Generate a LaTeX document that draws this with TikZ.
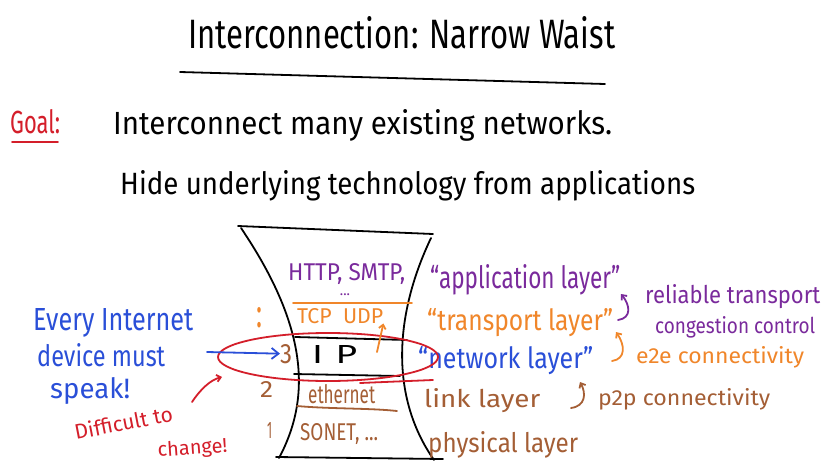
\documentclass[tikz,border=0pt]{standalone}
\usepackage{fontspec}
\usepackage{graphicx}
\setmainfont{Fira Sans}
\usetikzlibrary{arrows.meta}
\definecolor{cpurple}{HTML}{7A2A9C}
\definecolor{corange}{HTML}{F0862A}
\definecolor{cblue}{HTML}{2A4FD8}
\definecolor{cbrown}{HTML}{A45E35}
\definecolor{cred}{HTML}{D41E2A}
\newcommand{\fitbox}[3]{\resizebox{#1pt}{#2pt}{#3}}
\tikzset{
  ink/.style={line width=1.8pt, line cap=round, line join=round},
  txt/.style={inner sep=0pt, anchor=base west, font=\fontsize{20}{22}\selectfont},
  hook/.style={-{Straight Barb[length=4pt,width=7pt]}}
}
\begin{document}
\begin{tikzpicture}[x=1pt,y=-1pt]
\useasboundingbox[fill=white] (0,0) rectangle (830,474);

% Title
\node[txt] (title) at (188,48) {\fitbox{427}{32}{Interconnection: Narrow Waist}};
\coordinate (ulA) at (180,72);
\coordinate (ulB) at (605,84);
\draw[ink] (ulA) -- (ulB);

% Goal
\node[txt, text=cred] (goal) at (10,133) {\fitbox{50}{24}{Goal:}};
\coordinate (glA) at (12,142);
\coordinate (glB) at (58,142);
\draw[ink, cred] (glA) -- (glB);
\node[txt] (g1) at (113,134) {\fitbox{499}{25}{Interconnect many existing networks.}};
\node[txt] (g2) at (120,194) {\fitbox{575}{24}{Hide underlying technology from applications}};

% Hourglass
\coordinate (tl) at (238,226);
\coordinate (tr) at (433,234);
\coordinate (bl) at (276,457);
\coordinate (br) at (443,459);
\draw[ink] (tl) -- (tr);
\draw[ink] (bl) -- (br);
\draw[ink] (241,228) .. controls (310,330) and (310,400) .. (279,458);
\draw[ink] (431,238) .. controls (392,320) and (392,400) .. (434,460);
\draw[ink, corange] (293,303) -- (412,303);
\draw[ink] (295,337) -- (407,340);
\draw[ink] (294,374) -- (400,376);
\draw[ink, cbrown] (297,406) .. controls (330,409) and (370,408) .. (397,411);

% Hourglass labels
\node[txt, text=cpurple] (http) at (288,280) {\fitbox{117}{17}{HTTP, SMTP,}};
\node[txt, text=cpurple, anchor=base, font=\fontsize{14}{14}\selectfont, text height=2pt, text depth=0pt] (dots) at (345,295) {...};
\node[txt, text=corange] (tcp) at (297,323) {\fitbox{86}{15}{TCP\ \ UDP}};
\node[txt] (ip) at (312,363) {\fitbox{45}{18}{I\,\,P}};
\node[txt, text=cbrown] (n3) at (280,363) {\fitbox{12}{19}{3}};
\node[txt, text=cbrown] (eth) at (308,403) {\fitbox{67}{19}{ethernet}};
\node[txt, text=cbrown] (n2) at (260,397) {\fitbox{13}{16}{2}};
\node[txt, text=cbrown] (son) at (300,440) {\fitbox{78}{17}{SONET, ...}};
\node[txt, text=cbrown] (n1) at (267,438) {\fitbox{5}{16}{1}};
\node[txt, text=corange] (colon) at (256,327) {\fitbox{6}{20}{:}};

% Right labels
\node[txt, text=cpurple] (app) at (430,288) {\fitbox{190}{24}{``application layer''}};
\node[txt, text=corange] (tra) at (427,330) {\fitbox{186}{22}{``transport layer''}};
\node[txt, text=cblue] (net) at (418,368) {\fitbox{175}{22}{``network layer''}};
\node[txt, text=cbrown] (lnk) at (424,407) {\fitbox{116}{19}{link layer}};
\node[txt, text=cbrown] (phy) at (428,452) {\fitbox{150}{21}{physical layer}};

\node[txt, text=cpurple] (rel) at (645,303) {\fitbox{175}{19}{reliable transport}};
\node[txt, text=cpurple] (cong) at (655,333) {\fitbox{160}{17}{congestion control}};
\node[txt, text=corange] (e2e) at (636,363) {\fitbox{168}{17}{e2e connectivity}};
\node[txt, text=cbrown] (p2p) at (598,405) {\fitbox{172}{17}{p2p connectivity}};

% curly arrows
\draw[ink, cpurple, hook] (618,320) .. controls (632,318) and (630,305) .. (621,294);
\draw[ink, corange, hook] (612,361) .. controls (626,359) and (625,345) .. (616,332);
\draw[ink, cbrown, hook] (571,408) .. controls (586,406) and (586,393) .. (580,382);

% Ellipse
\draw[ink, cred] (328,357) ellipse [x radius=110, y radius=24];
\draw[ink, cred] (360,383) -- (433,380);

% arrow from TCP/UDP
\coordinate (caretA) at (377,352);
\draw[ink, corange, hook] (caretA) -- (tcp.south east);

% Blue text and arrow
\node[txt, text=cblue] (ev1) at (33,330) {\fitbox{160}{22}{Every Internet}};
\node[txt, text=cblue] (ev2) at (37,366) {\fitbox{128}{23}{device must}};
\node[txt, text=cblue] (ev3) at (50,398) {\fitbox{80}{21}{speak!}};
\coordinate (bArr) at (207,352);
\draw[ink, cblue, -{Straight Barb[length=7pt,width=11pt]}] (bArr) -- (n3.west);

% Red text and arrow
\node[txt, text=cred, rotate=11, font=\fontsize{21}{23}\selectfont] (diff) at (76,440) {Difficult to};
\node[txt, text=cred, rotate=4, font=\fontsize{20}{22}\selectfont] (chg) at (158,457) {change!};
\coordinate (rArr) at (192,402);
\coordinate (rTip) at (222,377);
\draw[ink, cred, hook] (rArr) .. controls (200,390) and (210,380) .. (rTip);
\end{tikzpicture}
\end{document}
